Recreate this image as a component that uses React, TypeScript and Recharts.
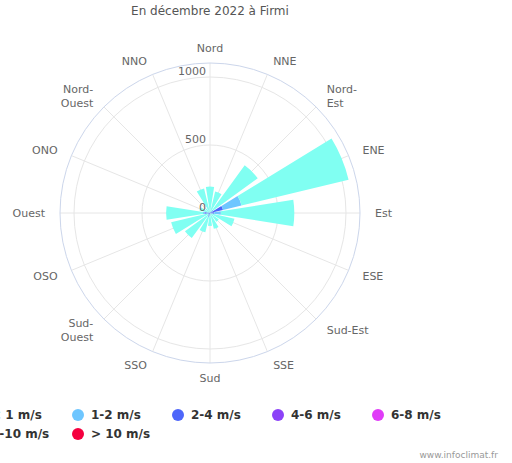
import React from "react"
import { RadialBarChart, RadialBar, PolarGrid, PolarAngleAxis, PolarRadiusAxis } from "recharts"

// directions, clockwise from north
const directions = ["Nord", "NNE", "Nord-Est", "ENE", "Est", "ESE", "Sud-Est", "SSE", "Sud", "SSO", "Sud-Ouest", "OSO", "Ouest", "ONO", "Nord-Ouest", "NNO"]

// counts per speed class
const below1 = [190, 152, 404, 810, 540, 172, 75, 108, 85, 112, 210, 276, 272, 70, 38, 180]
const from1to2 = [4, 5, 20, 140, 50, 8, 5, 7, 5, 9, 8, 8, 10, 5, 2, 6]
const from2to4 = [0, 5, 10, 90, 30, 5, 0, 5, 5, 25, 10, 10, 35, 5, 0, 0]
const from4to6 = [0, 0, 0, 8, 0, 0, 0, 0, 0, 0, 0, 0, 6, 0, 0, 0]
const from6to8 = [0, 0, 0, 0, 0, 0, 0, 0, 0, 0, 0, 0, 0, 0, 0, 0]
const from8to10 = [0, 0, 0, 0, 0, 0, 0, 0, 0, 0, 0, 0, 0, 0, 0, 0]
const above10 = [0, 0, 0, 0, 0, 0, 0, 0, 0, 0, 0, 0, 0, 0, 0, 0]

const speedNames = ["< 1 m/s", "1-2 m/s", "2-4 m/s", "4-6 m/s", "6-8 m/s", "8-10 m/s", "> 10 m/s"]
const speedColors = ["#80fff2", "#6ec6ff", "#4e66fa", "#8c42f8", "#e03cf8", "#f23c9c", "#f5003f"]
const speedKeys = ["s0", "s1", "s2", "s3", "s4", "s5", "s6"]
const series = [below1, from1to2, from2to4, from4to6, from6to8, from8to10, above10]

const radiusTicks = [0, 500, 1000]

const data = directions.map((dir, i) => {
	const row: Record<string, any> = { dir }
	series.forEach((s, k) => (row[speedKeys[k]] = s[i]))
	return row
})

const labelLines: Record<string, string[]> = {
	"Nord-Est": ["Nord-", "Est"],
	"Nord-Ouest": ["Nord-", "Ouest"],
	"Sud-Ouest": ["Sud-", "Ouest"],
}

const font = "'DejaVu Sans', Verdana, sans-serif"
const CX = 210
const CY = 213
const R = 150
const STEP = 360 / directions.length

// recharts puts a band tick at the band's start, so the chart is turned by half a band
// and the spokes / labels are put back on the bar centres
const spokeAngles = directions.map((_, i) => 90 - i * STEP)

function AngleTick(props: any) {
	const { payload } = props
	const i = directions.indexOf(payload.value)
	const a = (spokeAngles[i] * Math.PI) / 180
	const x = CX + (R + 15) * Math.cos(a)
	const y = CY - (R + 15) * Math.sin(a)
	const c = Math.cos(a)
	const anchor = c > 0.01 ? "start" : c < -0.01 ? "end" : "middle"
	const lines = labelLines[payload.value] ?? [payload.value]
	const lh = 14
	const top = y - ((lines.length - 1) * lh) / 2 + 4
	return (
		<text x={x} y={top} textAnchor={anchor} fill="#666" fontSize={11} fontFamily={font}>
			{lines.map((l, k) => (
				<tspan key={k} x={x} dy={k === 0 ? 0 : lh}>{l}</tspan>
			))}
		</text>
	)
}

function RadiusTick(props: any) {
	const { x, y, payload } = props
	return (
		<text x={x - 4} y={y - 2} textAnchor="end" fill="#666" fontSize={11} fontFamily={font}>
			{payload.value}
		</text>
	)
}

function LegendBox() {
	return (
		<>
			{speedNames.map((name, i) => (
				<div
					key={name}
					style={{
						position: "absolute",
						left: -28 + 100 * (i % 5),
						top: 408 + 19 * Math.floor(i / 5),
						display: "flex",
						alignItems: "center",
						whiteSpace: "nowrap",
						fontFamily: font,
						fontWeight: "bold",
						fontSize: 12,
						color: "#333",
					}}
				>
					<span style={{ width: 12, height: 12, borderRadius: 6, background: speedColors[i], marginRight: 7 }} />
					{name}
				</div>
			))}
		</>
	)
}

export default function App() {
	return (
		<div style={{ position: "absolute", left: 0, top: 0, width: 512, height: 463, overflow: "hidden", background: "#fff" }}>
			<div style={{ position: "absolute", left: 0, top: 4, width: 420, textAlign: "center", fontFamily: font, fontSize: 12, color: "#555" }}>
				En décembre 2022 à Firmi
			</div>
			<RadialBarChart
				width={512}
				height={463}
				data={data}
				cx={CX}
				cy={CY}
				innerRadius={0}
				outerRadius={R}
				startAngle={90 - STEP / 2}
				endAngle={-270 - STEP / 2}
				layout="centric"
				barCategoryGap="10%"
			>
				<PolarGrid gridType="circle" stroke="#e6e6e6" polarAngles={spokeAngles} />
				<PolarAngleAxis
					type="category"
					dataKey="dir"
					axisLineType="circle"
					stroke="#ccd6eb"
					tickLine={false}
					tick={<AngleTick />}
				/>
				<PolarRadiusAxis
					type="number"
					angle={90}
					domain={[0, 1103]}
					ticks={radiusTicks}
					axisLine={false}
					tickLine={false}
					tick={<RadiusTick />}
				/>
				{speedKeys
					.map((key, k) => ({ key, k }))
					.reverse()
					.map(({ key, k }) => (
						<RadialBar key={key} dataKey={key} name={speedNames[k]} stackId="wind" fill={speedColors[k]} isAnimationActive={false} />
					))}
			</RadialBarChart>
			<LegendBox />
			<div style={{ position: "absolute", right: 14, top: 450, fontFamily: font, fontSize: 9, color: "#999" }}>www.infoclimat.fr</div>
		</div>
	)
}
